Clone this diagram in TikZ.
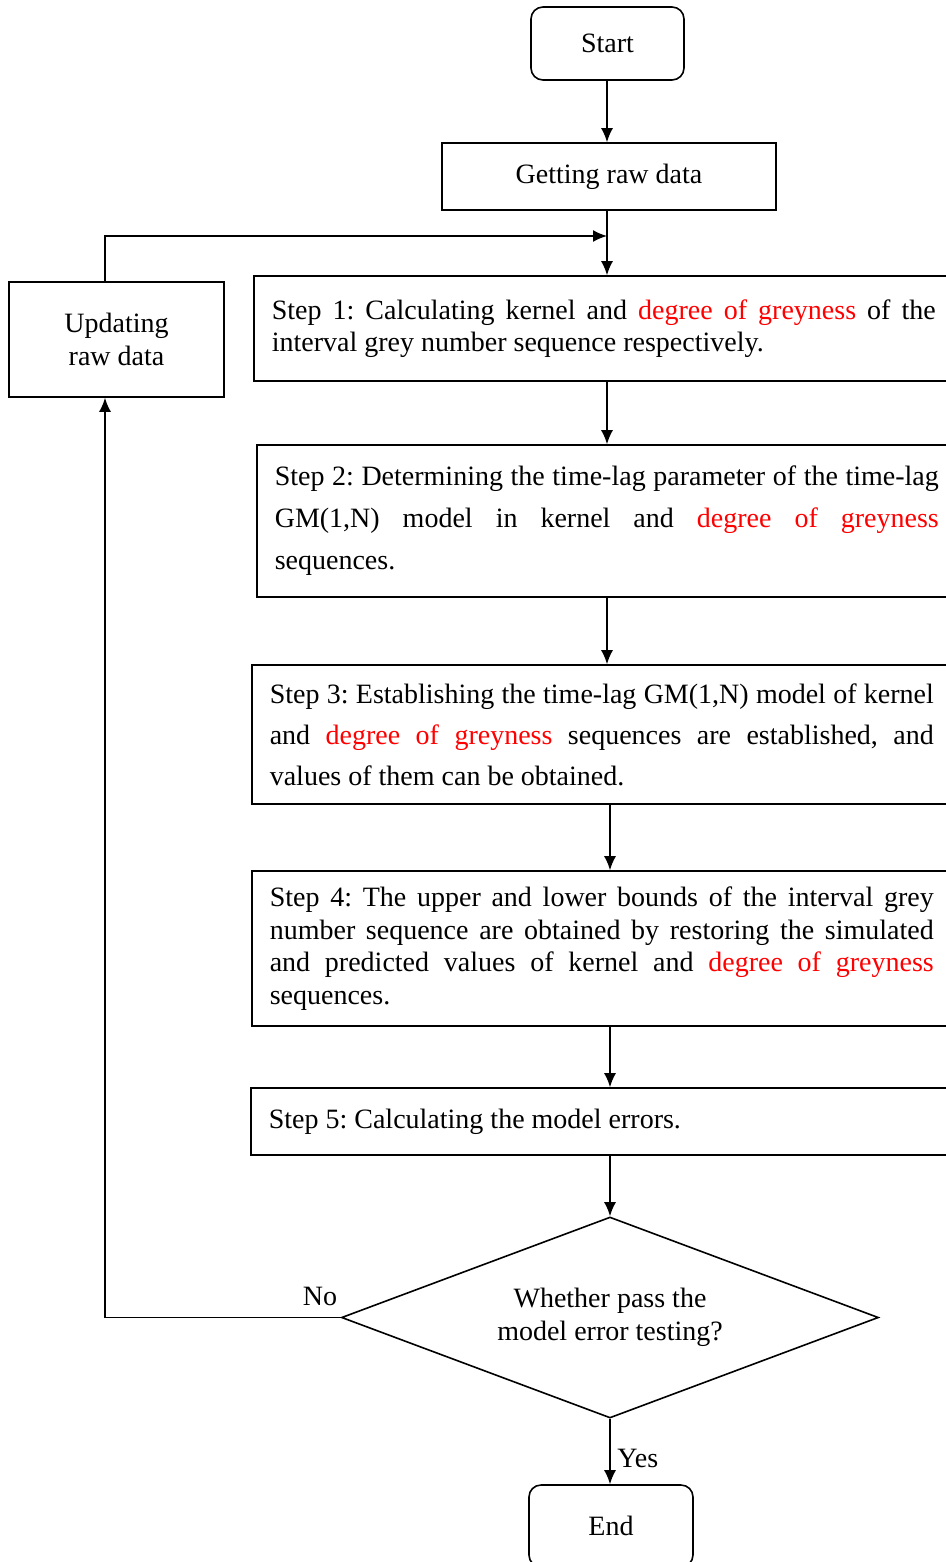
\documentclass[tikz,border=0pt]{standalone}
\usepackage{fontspec}
\setmainfont{Liberation Serif}
\usepackage{tikz}
\usetikzlibrary{positioning,shapes.geometric,arrows.meta}

\frenchspacing
\tikzset{
    base/.style = {draw = black, line width = 0.8pt, font = \fontsize{14}{16}\selectfont},
    terminal/.style = {base, rounded corners = 6pt, minimum height = 36.5pt},
    box/.style = {base, minimum height = 33.5pt},
    stepbox/.style = {base, align = justify, text width = 332pt, minimum width = 350pt, anchor = west},
    decision/.style = {base, diamond, aspect = 2.67, inner sep = 0pt, minimum width = 268.5pt, minimum height = 100.5pt, align = center, font = \fontsize{14}{16.5}\selectfont},
    arrow/.style = {line width = 0.8pt, -{Latex[length = 7pt, width = 6pt]}},
}

\begin{document}
\begin{tikzpicture}[x = 0.5pt, y = -0.5pt]
    \useasboundingbox (0,0) rectangle (946,1562);
    \begin{scope}
        \node[terminal, minimum width = 76.5pt] (start) at (607.5,43.5) {Start};
        \node[box, minimum width = 167pt] (getting) at (609,176.5) {Getting raw data};
        \node[base, align = center, minimum width = 107.5pt, minimum height = 57.5pt, font = \fontsize{14}{16.5}\selectfont] (updating) at (116.5,339.5) {Updating\\raw data};
        \node[stepbox, minimum height = 52.5pt] (step1) at (253,328.5) {Step 1: Calculating kernel and \textcolor{red}{degree of greyness} of the\linebreak interval grey number sequence respectively.};
        \node[stepbox, minimum height = 76pt, font = \fontsize{14}{21}\selectfont] (step2) at (256,521) {Step 2: Determining the time-lag parameter of the time-lag\linebreak GM(1,N) model in kernel and \textcolor{red}{degree of greyness}\linebreak sequences.};
        \node[stepbox, minimum height = 69.5pt, font = \fontsize{14}{20.5}\selectfont] (step3) at (251,734.5) {Step 3: Establishing the time-lag GM(1,N) model of kernel\linebreak and \textcolor{red}{degree of greyness} sequences are established, and\linebreak values of them can be obtained.};
        \node[stepbox, minimum height = 77.5pt, font = \fontsize{14}{16.25}\selectfont] (step4) at (251,948.5) {Step 4: The upper and lower bounds of the interval grey\linebreak number sequence are obtained by restoring the simulated\linebreak and predicted values of kernel and \textcolor{red}{degree of greyness}\linebreak sequences.};
        \node[stepbox, minimum height = 33.5pt] (step5) at (250,1121.5) {Step 5: Calculating the model errors.};
        \node[decision] (decide) at (610,1317.5) {Whether pass the\\model error testing?};
        \node[terminal, minimum width = 82pt, minimum height = 41pt] (stop) at (611,1526) {End};
        \coordinate (joint) at (607,236);
        \coordinate (loopx) at (105,0);
        \draw[arrow] (start.south -| joint) -- (getting.north -| joint);
        \draw[line width = 0.8pt] (getting.south -| joint) -- (joint);
        \draw[arrow] (joint) -- (step1.north -| joint);
        \draw[arrow] (updating.north -| loopx) |- (joint);
        \draw[arrow] (step1.south -| joint) -- (step2.north -| joint);
        \draw[arrow] (step2.south -| joint) -- (step3.north -| joint);
        \draw[arrow] (step3.south -| decide) -- (step4.north -| decide);
        \draw[arrow] (step4.south -| decide) -- (step5.north -| decide);
        \draw[arrow] (step5.south -| decide) -- (decide.north);
        \draw[arrow] (decide.south) -- (stop.north -| decide.south) node[pos = 0.6, right, font = \fontsize{14}{16}\selectfont] (yes) {Yes};
        \draw[arrow] (decide.west) -| (updating.south -| loopx) node[pos = 0.044, above = 2pt, font = \fontsize{14}{16}\selectfont] (no) {No};
    \end{scope}
\end{tikzpicture}
\end{document}
